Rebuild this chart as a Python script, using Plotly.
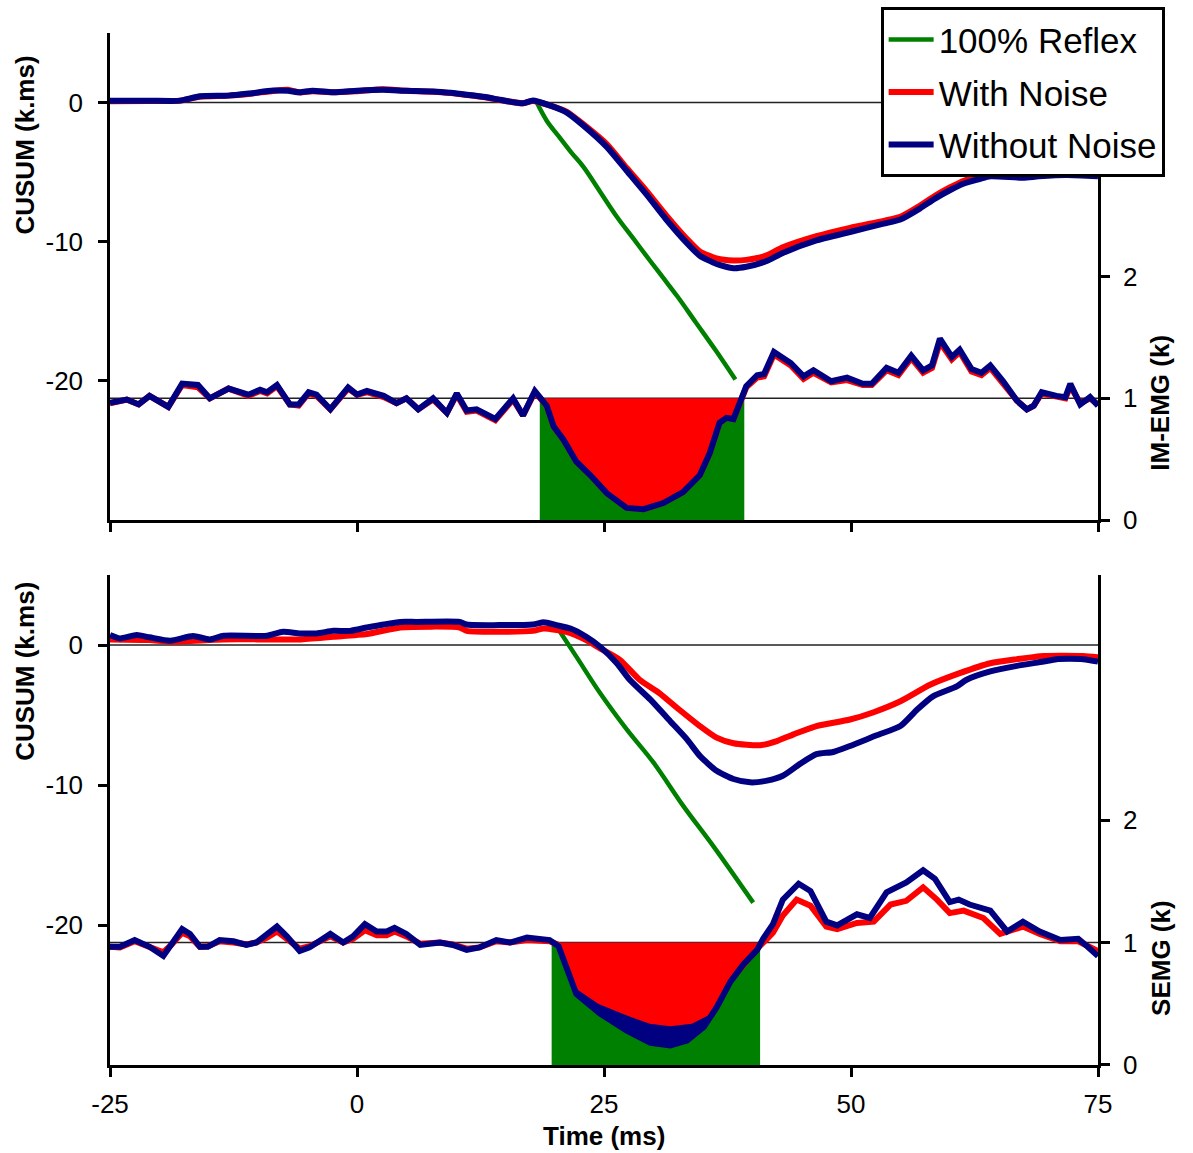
import numpy as np
import plotly.graph_objects as go

# ---------------- DATA ----------------
x_ticks = [-25, 0, 25, 50, 75]
x_tick_labels = ["-25", "0", "25", "50", "75"]
cusum_ticks = [-20, -10, 0]
cusum_tick_labels = ["-20", "-10", "0"]
emg_ticks = [0, 1, 2]
emg_tick_labels = ["0", "1", "2"]

# Top panel (IM-EMG) CUSUM
top_cusum_t = [-25, -21, -17.9, -15.9, -13, -10.8, -8.5, -7, -5.8, -4.5, -2.4, 0, 2.6, 5, 7.7, 9.5, 11.1, 13,
               14.5, 16.8, 17.8, 19.5, 21.2, 22.9, 25.3, 27.3, 29.3, 31.3, 33.4, 34.7, 36.4, 38.1, 39.4, 41.4,
               43.1, 46.5, 49.9, 53.3, 55, 57, 58.5, 60, 61.5, 63, 64.1, 67.4, 69, 71.8, 75]
top_cusum_blue = [0.14, 0.14, 0.14, 0.45, 0.5, 0.66, 0.86, 0.85, 0.74, 0.85, 0.74, 0.85, 0.92, 0.85, 0.8, 0.7,
                  0.57, 0.4, 0.2, -0.05, 0.15, -0.2, -0.7, -1.64, -3.2, -4.9, -6.6, -8.4, -10.1, -11.0, -11.6,
                  -11.9, -11.8, -11.4, -10.8, -9.9, -9.3, -8.7, -8.4, -7.6, -6.9, -6.3, -5.8, -5.5, -5.3, -5.4,
                  -5.3, -5.2, -5.3]
top_cusum_red = [0.1, 0.12, 0.14, 0.42, 0.5, 0.64, 0.84, 0.92, 0.72, 0.82, 0.74, 0.82, 0.95, 0.85, 0.78, 0.68,
                 0.55, 0.38, 0.18, -0.05, 0.12, -0.2, -0.65, -1.55, -3.0, -4.7, -6.35, -8.1, -9.8, -10.7, -11.2,
                 -11.35, -11.3, -11.0, -10.4, -9.6, -9.0, -8.5, -8.2, -7.4, -6.7, -6.1, -5.6, -5.3, -5.1, -5.2,
                 -5.1, -5.0, -5.1]
top_reflex_t = [18.2, 19.2, 20.5, 21.7, 22.9, 24.6, 26.3, 28.0, 29.7, 31.0, 32.4, 34.3, 36.3, 38.3]
top_reflex_cusum = [0, -1.3, -2.5, -3.6, -4.6, -6.4, -8.2, -9.8, -11.4, -12.6, -13.9, -15.8, -17.8, -19.9]

# Top panel IM-EMG
top_emg_t = [-25, -23.3, -22.1, -21, -19.1, -17.7, -16.1, -14.9, -13.0, -11.0, -9.8, -9.1, -8.1, -6.8, -5.9,
             -4.9, -4.1, -2.7, -0.9, 0.0, 1.0, 2.7, 4.0, 5.0, 6.2, 7.7, 9.1, 10.1, 11.1, 12.1, 14.0, 15.8, 16.8,
             18.0, 19.2, 19.9, 20.9, 22.2, 23.6, 25.3, 27.3, 29.0, 31.0, 33.0, 34.7, 35.7, 36.7, 37.4, 38.1,
             38.8, 39.4, 40.5, 41.2, 42.2, 43.9, 45.2, 46.2, 48.0, 49.6, 51.2, 52.1, 53.6, 54.8, 56.1, 57.3,
             58.2, 59.0, 60.2, 61.0, 62.2, 63.2, 64.1, 65.4, 66.8, 67.8, 68.5, 69.3, 70.8, 71.7, 72.2, 73.2,
             74.2, 75]
top_emg_blue = [0.964, 0.99, 0.95, 1.02, 0.93, 1.12, 1.11, 1.0, 1.08, 1.03, 1.07, 1.05, 1.11, 0.95, 0.95, 1.05,
                1.03, 0.91, 1.09, 1.03, 1.06, 1.02, 0.96, 1.0, 0.91, 1.0, 0.88, 1.04, 0.90, 0.91, 0.83, 1.0,
                0.86, 1.06, 0.94, 0.77, 0.66, 0.48, 0.37, 0.22, 0.10, 0.09, 0.14, 0.23, 0.37, 0.55, 0.80, 0.84,
                0.83, 0.96, 1.10, 1.19, 1.20, 1.38, 1.29, 1.18, 1.23, 1.14, 1.17, 1.12, 1.12, 1.25, 1.21, 1.35,
                1.23, 1.27, 1.49, 1.34, 1.40, 1.24, 1.21, 1.27, 1.14, 0.98, 0.91, 0.94, 1.05, 1.02, 1.01, 1.12,
                0.95, 1.01, 0.94]
top_emg_red = [0.96, 0.99, 0.95, 1.02, 0.93, 1.11, 1.09, 1.0, 1.08, 1.02, 1.06, 1.04, 1.10, 0.95, 0.94, 1.04,
               1.02, 0.91, 1.08, 1.03, 1.05, 1.01, 0.96, 1.0, 0.91, 0.99, 0.88, 1.03, 0.89, 0.90, 0.82, 0.99,
               0.86, 1.05, 0.94, 0.77, 0.66, 0.48, 0.37, 0.22, 0.10, 0.09, 0.14, 0.23, 0.37, 0.55, 0.80, 0.84,
               0.83, 0.96, 1.09, 1.17, 1.18, 1.36, 1.27, 1.16, 1.21, 1.13, 1.15, 1.11, 1.11, 1.23, 1.19, 1.33,
               1.21, 1.25, 1.46, 1.32, 1.38, 1.22, 1.19, 1.25, 1.12, 0.98, 0.91, 0.94, 1.04, 1.02, 1.0, 1.10,
               0.96, 1.0, 0.95]
top_reflex_window = [18.5, 39.2]

# Bottom panel (SEMG) CUSUM
bot_cusum_blue_t = [-25, -24, -22.3, -21, -18.9, -16.6, -14.9, -13.5, -9.1, -7.5, -5.8, -4.1, -2.4, -0.7, 1.0,
                    2.7, 4.4, 6.0, 10.4, 11.1, 17.8, 18.9, 20.2, 21.6, 23.2, 24.6, 26.3, 27.6, 29.7, 31.7, 33.4,
                    34.7, 36.4, 38.1, 39.8, 41.5, 43.1, 44.8, 46.5, 48.2, 49.9, 52.6, 55.0, 56.7, 58.3, 60.7,
                    61.7, 64.1, 66.8, 69.5, 70.8, 73.5, 75]
bot_cusum_blue = [0.71, 0.47, 0.71, 0.55, 0.31, 0.64, 0.40, 0.66, 0.66, 0.94, 0.83, 0.83, 1.01, 1.01, 1.25, 1.47,
                  1.65, 1.65, 1.65, 1.47, 1.47, 1.62, 1.42, 1.18, 0.59, -0.12, -1.30, -2.48, -3.90, -5.44, -6.74,
                  -7.92, -8.99, -9.57, -9.81, -9.69, -9.34, -8.51, -7.80, -7.64, -7.21, -6.45, -5.79, -4.61,
                  -3.67, -2.96, -2.48, -1.89, -1.49, -1.18, -1.01, -1.01, -1.18]
bot_cusum_red_t = [-25, -21, -18.9, -13.5, -9.1, -5.8, -2.4, 1.0, 4.4, 10.4, 11.1, 17.8, 18.9, 21.2, 23.2, 24.6,
                   26.6, 28.6, 30.6, 32.6, 34.7, 36.4, 38.1, 40.8, 42.5, 44.2, 46.5, 49.9, 52.3, 55.0, 58.0,
                   61.0, 64.1, 66.8, 69.5, 73.5, 75]
bot_cusum_red = [0.40, 0.35, 0.24, 0.40, 0.40, 0.40, 0.59, 0.78, 1.25, 1.25, 1.01, 1.01, 1.18, 0.94, 0.35, -0.24,
                 -1.06, -2.48, -3.43, -4.61, -5.79, -6.62, -7.02, -7.16, -6.86, -6.38, -5.79, -5.32, -4.80,
                 -4.02, -2.84, -2.01, -1.30, -1.01, -0.78, -0.78, -0.87]
bot_reflex_t = [20.4, 22.2, 24.6, 27.3, 30.0, 33.0, 36.1, 40.1]
bot_reflex_cusum = [1.1, -0.83, -3.43, -6.03, -8.39, -11.47, -14.4, -18.4]

# Bottom panel SEMG
bot_emg_blue_t = [-25, -24, -22.5, -21, -19.6, -18.8, -17.7, -16.9, -15.9, -15.1, -13.9, -12.5, -11.2, -10.2,
                  -9.1, -8.1, -7.1, -5.8, -4.8, -2.7, -1.4, -0.4, 0.8, 2.0, 3.0, 3.8, 5.0, 6.4, 8.4, 9.7, 11.1,
                  12.4, 14.1, 15.5, 17.2, 19.5, 20.4, 21.2, 22.2, 24.6, 27.3, 29.7, 31.7, 33.4, 35.1, 36.4, 37.8,
                  39.1, 40.5, 41.1, 42.1, 43.1, 44.7, 45.9, 46.7, 47.5, 48.6, 50.6, 51.9, 53.6, 55.6, 57.3, 58.5,
                  60.0, 60.9, 62.0, 64.1, 65.8, 67.4, 69.1, 71.2, 73.0, 73.9, 75]
bot_emg_blue = [0.965, 0.965, 1.02, 0.965, 0.89, 0.98, 1.11, 1.07, 0.965, 0.965, 1.02, 1.01, 0.98, 1.0, 1.07,
                1.13, 1.05, 0.93, 0.96, 1.07, 1.0, 1.05, 1.15, 1.09, 1.09, 1.12, 1.07, 0.98, 1.0, 0.98, 0.94,
                0.96, 1.02, 1.0, 1.04, 1.02, 0.97, 0.81, 0.58, 0.42, 0.28, 0.18, 0.16, 0.20, 0.31, 0.47, 0.68,
                0.82, 0.94, 1.03, 1.15, 1.35, 1.48, 1.42, 1.30, 1.17, 1.14, 1.23, 1.20, 1.41, 1.49, 1.59, 1.52,
                1.33, 1.35, 1.31, 1.26, 1.09, 1.17, 1.09, 1.02, 1.03, 0.97, 0.89]
bot_emg_red_t = [-25, -24, -22.5, -21, -19.6, -18.8, -17.7, -16.9, -15.9, -15.1, -13.9, -12.5, -11.2, -10.2,
                 -9.1, -8.1, -7.1, -5.8, -4.8, -2.7, -1.4, -0.4, 0.8, 2.0, 3.0, 3.8, 5.0, 6.4, 8.4, 9.7, 11.1,
                 12.4, 14.1, 15.5, 17.2, 19.5, 20.4, 21.2, 22.2, 24.6, 27.3, 29.7, 31.7, 33.8, 35.5, 36.4, 37.8,
                 39.1, 40.5, 41.5, 42.1, 43.1, 44.5, 45.9, 47.5, 48.6, 50.6, 52.3, 54.0, 55.6, 57.3, 58.7, 60.0,
                 61.4, 63.4, 65.1, 67.4, 69.1, 71.2, 73.0, 75]
bot_emg_red = [0.965, 0.96, 1.01, 0.96, 0.92, 0.98, 1.08, 1.05, 0.965, 0.97, 1.01, 1.0, 0.985, 1.0, 1.04, 1.09,
               1.03, 0.95, 0.97, 1.05, 1.0, 1.03, 1.10, 1.06, 1.06, 1.09, 1.05, 0.99, 1.0, 0.985, 0.95, 0.96,
               1.01, 1.0, 1.02, 1.01, 0.98, 0.85, 0.65, 0.52, 0.43, 0.36, 0.34, 0.36, 0.43, 0.52, 0.69, 0.82,
               0.95, 1.03, 1.08, 1.22, 1.35, 1.30, 1.13, 1.11, 1.16, 1.17, 1.31, 1.34, 1.45, 1.35, 1.24, 1.26,
               1.20, 1.07, 1.13, 1.07, 1.01, 1.01, 0.93]
bot_reflex_window = [19.7, 40.8]

cusum_baseline = 0
emg_baseline = 1

# ---------------- STYLE ----------------
GREEN = "#008000"
RED = "#FF0000"
NAVY = "#000080"
FONT = "Liberation Sans, Arial, sans-serif"


def window_polygon(t, v, window, base):
    t = np.asarray(t, float)
    v = np.asarray(v, float)
    lo, hi = window
    inside = (t > lo) & (t < hi)
    xs = [lo, lo] + list(t[inside]) + [hi, hi]
    ys = [base, np.interp(lo, t, v)] + list(v[inside]) + [np.interp(hi, t, v), base]
    ys = [min(y, base) for y in ys]
    return xs, ys


fig = go.Figure()


def add_panel(xa, ya_c, ya_e, c_t_b, c_b, c_t_r, c_r, r_t, r_c, e_t_b, e_b, e_t_r, e_r, window, legend):
    fig.add_trace(go.Scatter(x=[window[0], window[0], window[1], window[1]],
                             y=[0, emg_baseline, emg_baseline, 0], fill="toself", fillcolor=GREEN,
                             line=dict(width=0, color=GREEN), mode="lines", xaxis=xa, yaxis=ya_e,
                             showlegend=False, hoverinfo="skip"))
    bx, by = window_polygon(e_t_b, e_b, window, emg_baseline)
    fig.add_trace(go.Scatter(x=bx, y=by, fill="toself", fillcolor=NAVY, line=dict(width=0, color=NAVY),
                             mode="lines", xaxis=xa, yaxis=ya_e, showlegend=False, hoverinfo="skip"))
    rx, ry = window_polygon(e_t_r, e_r, window, emg_baseline)
    fig.add_trace(go.Scatter(x=rx, y=ry, fill="toself", fillcolor=RED, line=dict(width=0, color=RED),
                             mode="lines", xaxis=xa, yaxis=ya_e, showlegend=False, hoverinfo="skip"))
    fig.add_trace(go.Scatter(x=e_t_r, y=e_r, mode="lines", line=dict(color=RED, width=6),
                             xaxis=xa, yaxis=ya_e, showlegend=False))
    fig.add_trace(go.Scatter(x=e_t_b, y=e_b, mode="lines", line=dict(color=NAVY, width=6),
                             xaxis=xa, yaxis=ya_e, showlegend=False))
    fig.add_trace(go.Scatter(x=r_t, y=r_c, mode="lines", line=dict(color=GREEN, width=4.5, shape="spline"),
                             xaxis=xa, yaxis=ya_c, name="100% Reflex", showlegend=legend,
                             legendgroup="g1"))
    fig.add_trace(go.Scatter(x=c_t_r, y=c_r, mode="lines",
                             line=dict(color=RED, width=6, shape="spline", smoothing=0.6),
                             xaxis=xa, yaxis=ya_c, name="With Noise", showlegend=legend,
                             legendgroup="g2"))
    fig.add_trace(go.Scatter(x=c_t_b, y=c_b, mode="lines",
                             line=dict(color=NAVY, width=6, shape="spline", smoothing=0.6),
                             xaxis=xa, yaxis=ya_c, name="Without Noise", showlegend=legend,
                             legendgroup="g3"))


add_panel("x", "y", "y2", top_cusum_t, top_cusum_blue, top_cusum_t, top_cusum_red,
          top_reflex_t, top_reflex_cusum, top_emg_t, top_emg_blue, top_emg_t, top_emg_red,
          top_reflex_window, True)
add_panel("x2", "y3", "y4", bot_cusum_blue_t, bot_cusum_blue, bot_cusum_red_t, bot_cusum_red,
          bot_reflex_t, bot_reflex_cusum, bot_emg_blue_t, bot_emg_blue, bot_emg_red_t, bot_emg_red,
          bot_reflex_window, False)

for xr, yr, val in [("x", "y", cusum_baseline), ("x", "y2", emg_baseline),
                    ("x2", "y3", cusum_baseline), ("x2", "y4", emg_baseline)]:
    fig.add_shape(type="line", xref=xr, yref=yr, x0=x_ticks[0], x1=x_ticks[-1], y0=val, y1=val,
                  line=dict(color="#222222", width=1.5), layer="below")

axis_common = dict(showline=True, linecolor="black", linewidth=2.5, showgrid=False, zeroline=False,
                   ticks="outside", ticklen=9, tickwidth=2.5, tickcolor="black",
                   tickfont=dict(family=FONT, size=26, color="black"))

top_dom = [0.528, 1.0]
bot_dom = [0.0, 0.4748]

fig.update_layout(
    width=1193, height=1153, autosize=False,
    margin=dict(l=110, r=95, t=33, b=88, autoexpand=False),
    paper_bgcolor="white", plot_bgcolor="white",
    font=dict(family=FONT, color="black"),
    xaxis=dict(domain=[0, 1], anchor="y", range=[-25, 75], tickvals=x_ticks, showticklabels=False,
               **axis_common),
    xaxis2=dict(domain=[0, 1], anchor="y3", range=[-25, 75], tickvals=x_ticks, ticktext=x_tick_labels,
                ticklabelstandoff=5, **axis_common),
    yaxis=dict(domain=top_dom, anchor="x", range=[-30, 5], tickvals=cusum_ticks,
               ticktext=cusum_tick_labels, ticklabelstandoff=10, **axis_common),
    yaxis2=dict(overlaying="y", anchor="x", side="right", range=[0, 4], tickvals=emg_ticks,
                ticktext=emg_tick_labels, ticklabelstandoff=8, **axis_common),
    yaxis3=dict(domain=bot_dom, anchor="x2", range=[-30, 5], tickvals=cusum_ticks,
                ticktext=cusum_tick_labels, ticklabelstandoff=10, **axis_common),
    yaxis4=dict(overlaying="y3", anchor="x2", side="right", range=[0, 4], tickvals=emg_ticks,
                ticktext=emg_tick_labels, ticklabelstandoff=8, **axis_common),
    legend=dict(x=0.780, y=1.025, xanchor="left", yanchor="top", bgcolor="white",
                bordercolor="black", borderwidth=3, font=dict(family=FONT, size=35, color="black"),
                tracegroupgap=4, itemwidth=45),
    showlegend=True,
)

title_font = dict(family=FONT, size=26, color="black")
annos = [
    dict(text="<b>CUSUM (k.ms)</b>", x=-0.086, y=0.891, textangle=-90),
    dict(text="<b>CUSUM (k.ms)</b>", x=-0.086, y=0.381, textangle=-90),
    dict(text="<b>IM-EMG (k)</b>", x=1.063, y=0.642, textangle=-90),
    dict(text="<b>SEMG (k)</b>", x=1.063, y=0.104, textangle=-90),
    dict(text="<b>Time (ms)</b>", x=0.5, y=-0.0688, textangle=0),
]
for a in annos:
    fig.add_annotation(xref="paper", yref="paper", xanchor="center", yanchor="middle",
                       showarrow=False, font=title_font, **a)

fig.write_html("out.html")
